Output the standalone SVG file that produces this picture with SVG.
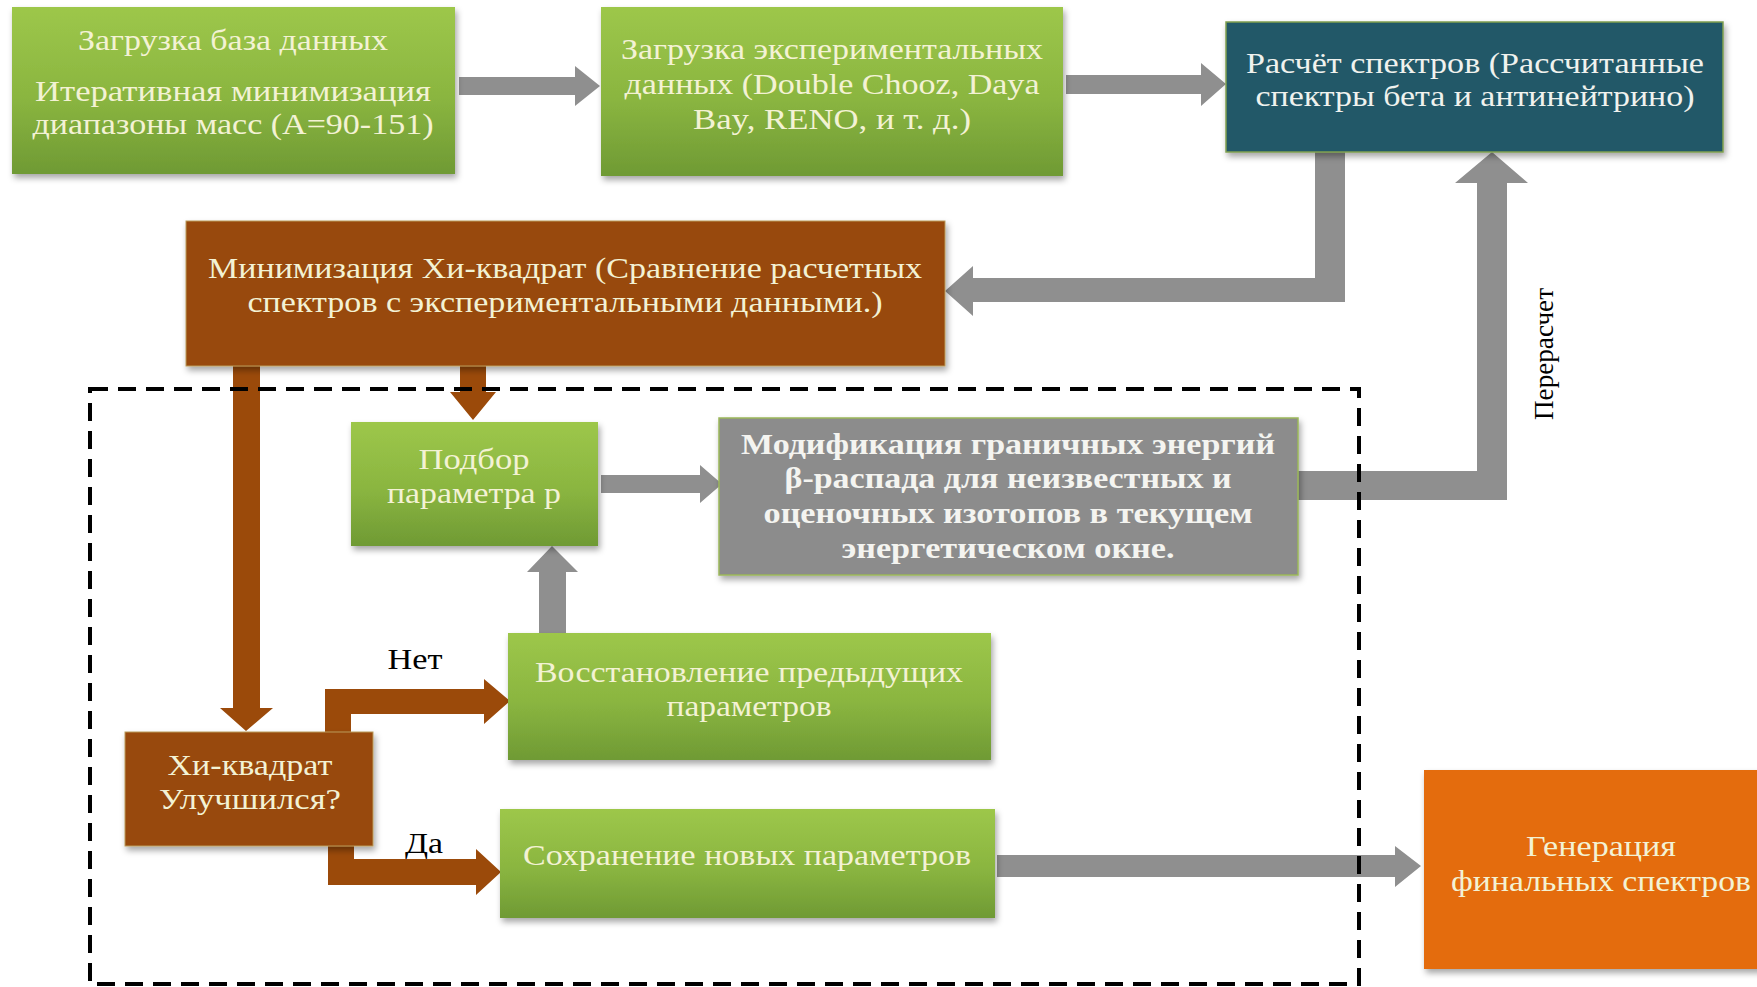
<svg xmlns="http://www.w3.org/2000/svg" width="1757" height="987" viewBox="0 0 1757 987">
<defs>
<linearGradient id="gGreen" x1="0" y1="0" x2="0" y2="1">
<stop offset="0" stop-color="#9dc74a"/>
<stop offset="0.55" stop-color="#8ab540"/>
<stop offset="1" stop-color="#6f9a34"/>
</linearGradient>
<filter id="shadow" x="-5%" y="-5%" width="112%" height="120%">
<feDropShadow dx="2" dy="4" stdDeviation="3" flood-color="#000" flood-opacity="0.35"/>
</filter>
</defs>
<style>
.green{fill:url(#gGreen);filter:url(#shadow);}
.teal{fill:#215968;stroke:#7f9f4f;stroke-width:1.5;filter:url(#shadow);}
.brown{fill:#984807;stroke:#b99a5a;stroke-width:1;filter:url(#shadow);}
.grey{fill:#8c8c8c;stroke:#9bb65a;stroke-width:1.5;filter:url(#shadow);}
.orange{fill:#e46c0a;filter:url(#shadow);}
.t{font-family:"Liberation Serif","Times New Roman",serif;font-size:30px;text-anchor:middle;}
.tg{fill:#f3f2d4;}
.tw{fill:#f0f2ee;}
.tb{font-weight:bold;font-size:29px;fill:#f4f4f0;}
.lbl{font-family:"Liberation Serif","Times New Roman",serif;font-size:30px;fill:#000;text-anchor:middle;}
.ga{fill:#8f8f8f;}
.ba{fill:#9b4a0a;}
</style>

<g id="connectors">
<polygon class="ga" points="459,77 575,77 575,66 600,86 575,106 575,95 459,95"/>
<polygon class="ga" points="1066,75 1201,75 1201,63 1226,84 1201,106 1201,94 1066,94"/>
<polygon class="ga" points="1315,152 1345,152 1345,302 973,302 973,316 945,291 973,266 973,278 1315,278"/>
<polygon class="ga" points="1298,471 1477,471 1477,183 1455,183 1492,152 1528,183 1507,183 1507,500 1298,500"/>
<polygon class="ga" points="601,475 700,475 700,465 722,484 700,503 700,493 601,493"/>
<polygon class="ga" points="539,633 539,572 527,572 552,546 578,572 566,572 566,633"/>
<polygon class="ga" points="997,855 1395,855 1395,846 1421,866 1395,887 1395,877 997,877"/>
<polygon class="ba" points="233,366 260,366 260,708 273,708 246,731 220,708 233,708"/>
<polygon class="ba" points="460,366 486,366 486,392 496,392 473,420 450,392 460,392"/>
<polygon class="ba" points="325,732 325,689 484,689 484,679 510,701 484,724 484,714 351,714 351,732"/>
<polygon class="ba" points="328,846 354,846 354,859 476,859 476,849 501,872 476,895 476,885 328,885"/>
</g>

<g id="group-box">
<rect x="90" y="389" width="1269" height="595" fill="none" stroke="#000" stroke-width="4" stroke-dasharray="18,10"/>
</g>

<g id="n-load-db">
<rect class="green" x="12" y="7" width="443" height="167"/>
<text class="t tg" x="233" y="50" textLength="310" lengthAdjust="spacingAndGlyphs">Загрузка база данных</text>
<text class="t tg" x="233" y="101" textLength="396" lengthAdjust="spacingAndGlyphs">Итеративная минимизация</text>
<text class="t tg" x="233" y="134" textLength="401" lengthAdjust="spacingAndGlyphs">диапазоны масс (A=90-151)</text>
</g>

<g id="n-load-exp">
<rect class="green" x="601" y="7" width="462" height="169"/>
<text class="t tg" x="832" y="59" textLength="422" lengthAdjust="spacingAndGlyphs">Загрузка экспериментальных</text>
<text class="t tg" x="832" y="94" textLength="415" lengthAdjust="spacingAndGlyphs">данных (Double Chooz, Daya</text>
<text class="t tg" x="832" y="129" textLength="278" lengthAdjust="spacingAndGlyphs">Bay, RENO, и т. д.)</text>
</g>

<g id="n-calc">
<rect class="teal" x="1226" y="22" width="497" height="130"/>
<text class="t tw" x="1475" y="73" textLength="458" lengthAdjust="spacingAndGlyphs">Расчёт спектров (Рассчитанные</text>
<text class="t tw" x="1475" y="106" textLength="439" lengthAdjust="spacingAndGlyphs">спектры бета и антинейтрино)</text>
</g>

<g id="n-chi-min">
<rect class="brown" x="186" y="221" width="759" height="145"/>
<text class="t tg" x="565" y="278" textLength="714" lengthAdjust="spacingAndGlyphs">Минимизация Хи-квадрат (Сравнение расчетных</text>
<text class="t tg" x="565" y="312" textLength="635" lengthAdjust="spacingAndGlyphs">спектров с экспериментальными данными.)</text>
</g>

<g id="n-param">
<rect class="green" x="351" y="422" width="247" height="124"/>
<text class="t tg" x="474" y="469" textLength="111" lengthAdjust="spacingAndGlyphs">Подбор</text>
<text class="t tg" x="474" y="503" textLength="174" lengthAdjust="spacingAndGlyphs">параметра р</text>
</g>

<g id="n-modify">
<rect class="grey" x="719" y="418" width="579" height="157"/>
<text class="t tb" x="1008" y="454" textLength="534" lengthAdjust="spacingAndGlyphs">Модификация граничных энергий</text>
<text class="t tb" x="1008" y="488" textLength="447" lengthAdjust="spacingAndGlyphs">β-распада для неизвестных и</text>
<text class="t tb" x="1008" y="523" textLength="489" lengthAdjust="spacingAndGlyphs">оценочных изотопов в текущем</text>
<text class="t tb" x="1008" y="558" textLength="333" lengthAdjust="spacingAndGlyphs">энергетическом окне.</text>
</g>

<g id="n-restore">
<rect class="green" x="508" y="633" width="483" height="127"/>
<text class="t tg" x="749" y="682" textLength="428" lengthAdjust="spacingAndGlyphs">Восстановление предыдущих</text>
<text class="t tg" x="749" y="716" textLength="165" lengthAdjust="spacingAndGlyphs">параметров</text>
</g>

<g id="n-decision">
<rect class="brown" x="125" y="732" width="248" height="114"/>
<text class="t tg" x="250" y="775" textLength="165" lengthAdjust="spacingAndGlyphs">Хи-квадрат</text>
<text class="t tg" x="250" y="809" textLength="182" lengthAdjust="spacingAndGlyphs">Улучшился?</text>
</g>

<g id="n-save">
<rect class="green" x="500" y="809" width="495" height="109"/>
<text class="t tg" x="747" y="865" textLength="448" lengthAdjust="spacingAndGlyphs">Сохранение новых параметров</text>
</g>

<g id="n-final">
<rect class="orange" x="1424" y="770" width="340" height="199"/>
<text class="t tg" x="1601" y="856" textLength="150" lengthAdjust="spacingAndGlyphs">Генерация</text>
<text class="t tg" x="1601" y="891" textLength="300" lengthAdjust="spacingAndGlyphs">финальных спектров</text>
</g>

<g id="labels">
<text class="lbl" x="415" y="669" textLength="55" lengthAdjust="spacingAndGlyphs">Нет</text>
<text class="lbl" x="424" y="853" textLength="38" lengthAdjust="spacingAndGlyphs">Да</text>
<text class="lbl" style="font-size:28px" transform="translate(1553,354) rotate(-90)" x="0" y="0" textLength="132" lengthAdjust="spacingAndGlyphs">Перерасчет</text>
</g>
</svg>
